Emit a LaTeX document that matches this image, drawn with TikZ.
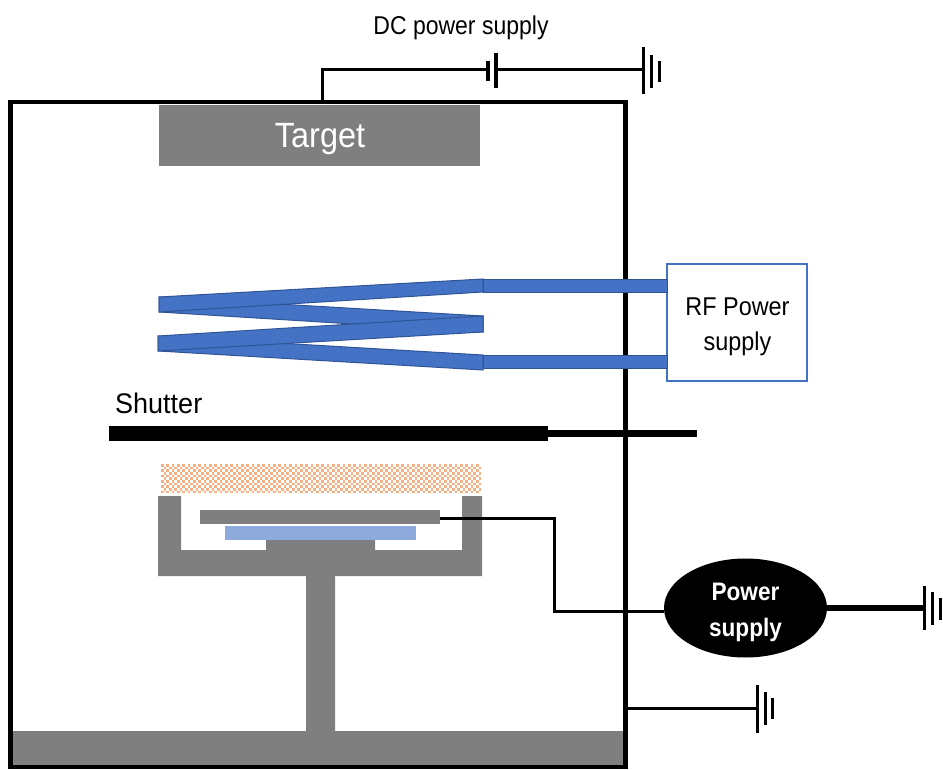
\documentclass[tikz,border=0pt]{standalone}
\usepackage{fontspec}
\usetikzlibrary{shapes.geometric}
\setmainfont{Liberation Sans}
\definecolor{steel}{HTML}{7F7F7F}
\definecolor{coil}{HTML}{4472C4}
\definecolor{coiledge}{HTML}{2F5597}
\definecolor{sandy}{HTML}{F4B183}
\definecolor{wafer}{HTML}{8EA9DB}
\tikzset{
  x=1pt,y=-1pt,
  wire/.style={line width=3pt,black,line join=miter},
  bar/.style={line width=3pt,black},
  steelbox/.style={fill=steel,draw=none},
  strip/.style={fill=coil,draw=coiledge,line width=1pt,line join=miter},
  box/.style={anchor=north west,inner sep=0pt,outer sep=0pt},
  label/.style={align=center,inner sep=0pt},
}
\begin{document}
\begin{tikzpicture}
\useasboundingbox (0,0) rectangle (943,770);
% chamber
\node[box,draw=black,line width=4.5pt,minimum width=615pt,minimum height=665pt,outer sep=0pt] (chamber) at (10.5,102) {};
\fill[steel] (13,731) rectangle (623,765);
% target
\node[box,steelbox,minimum width=321pt,minimum height=61pt] (target) at (159,105) {};
\node[label,white,yscale=1.08,font=\fontsize{32.5}{36}\selectfont] at (320,139) {Target};
% DC supply
\coordinate (batA) at (488,70);
\coordinate (batB) at (496,70);
\coordinate (gndA) at (643,70);
\draw[wire] (322.5,101) -- (322.5,70) -- (batA);
\draw[wire] (batB) -- (gndA);
\draw[bar,line width=3.2pt] (488,61) -- (488,81);
\draw[bar,line width=3.2pt] (496,53) -- (496,88);
\draw[bar] (643,47) -- (643,94);
\draw[bar] (651,55) -- (651,88);
\draw[bar] (659,61) -- (659,82);
\node[label,yscale=1.12,font=\fontsize{23}{27}\selectfont] (dc) at (461,28) {DC power supply};
% RF box
\node[box,draw=coil,fill=white,line width=1.8pt,minimum width=140pt,minimum height=117pt] (rf) at (667,264) {};
\node[label,yscale=1.1,font=\fontsize{23.4}{32}\selectfont] at (737.5,326.5) {RF Power\\supply};
% coil
\draw[strip] (159,297) -- (483,316) -- (483,332) -- (159,312) -- cycle;
\draw[strip] (158,336) -- (483,355) -- (483,370) -- (158,351) -- cycle;
\draw[strip] (158,336) -- (483,316) -- (483,332) -- (158,351) -- cycle;
\draw[strip] (159,297) -- (483,279) -- (483,292) -- (159,312) -- cycle;
\draw[strip] (483,279.5) rectangle (667,292.5);
\draw[strip] (483,355.5) rectangle (667,368.5);
% shutter
\node[box,fill=black,minimum width=439pt,minimum height=15pt] (shutter) at (109,426) {};
\coordinate (rod) at (697,433.5);
\draw[line width=7pt,black] (shutter.east) -- (rod);
\node[label,anchor=west,yscale=1.05,font=\fontsize{27}{31}\selectfont] at (115,403.5) {Shutter};
% deposit (checkered)
\foreach \i in {0,...,10}{
  \pgfmathsetmacro{\yy}{465.4+2.67*\i}
  \pgfmathsetmacro{\ph}{mod(\i,2)*2.67}
  \draw[sandy,line width=2.67pt,dash pattern=on 2.67pt off 2.67pt,dash phase=\ph pt] (161,\yy) -- (481,\yy);
}
% holder
\fill[steel] (158,496) -- (181,496) -- (181,550) -- (266,550) -- (266,540) -- (375,540) -- (375,550) -- (462,550) -- (462,496) -- (482,496) -- (482,576) -- (335,576) -- (335,731) -- (306,731) -- (306,576) -- (158,576) -- cycle;
\node[box,fill=wafer,minimum width=191pt,minimum height=14pt] (wafer) at (225,526) {};
\node[box,steelbox,minimum width=240pt,minimum height=14pt] (plate) at (200,510) {};
% power supply
\node[ellipse,fill=black,minimum width=163pt,minimum height=99pt,inner sep=0pt,outer sep=0pt] (ps) at (745.5,608) {};
\node[label,white,yscale=1.12,font=\fontsize{22.6}{32}\bfseries\selectfont] at (745.5,612.5) {Power\\supply};
\draw[wire] (plate.east |- 0,518.5) -- (554,518.5) -- (554,611) -- (ps.west |- 0,611);
\coordinate (gndB) at (924,608);
\draw[line width=6pt,black] (ps.east) -- (gndB);
\draw[bar] (924,586) -- (924,630);
\draw[bar] (932,592) -- (932,625);
\draw[bar] (940,598) -- (940,620);
% chamber ground
\coordinate (gndC) at (757,708);
\draw[wire] (chamber.east |- gndC) -- (gndC);
\draw[bar] (757,685) -- (757,733);
\draw[bar] (765,692) -- (765,725);
\draw[bar] (772,698) -- (772,719);
\end{tikzpicture}
\end{document}
